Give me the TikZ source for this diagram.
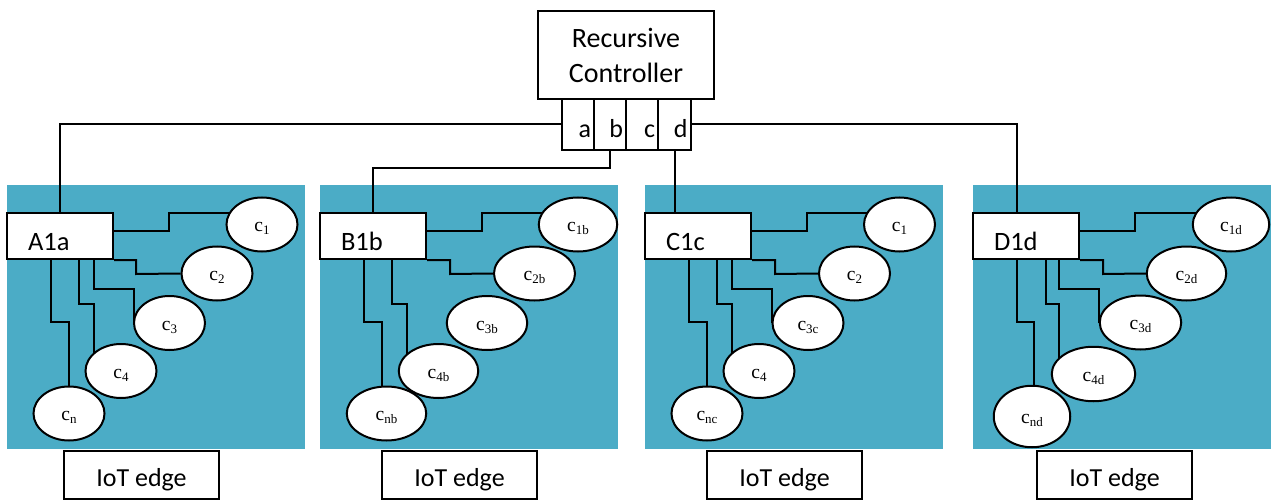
\documentclass[tikz,border=0pt]{standalone}
\usepackage{fontspec}
\setmainfont{Carlito}
\newfontfamily\tnr{Liberation Serif}
\usetikzlibrary{shapes.geometric}
\pgfdeclarelayer{panel}
\pgfdeclarelayer{wires}
\pgfsetlayers{panel,wires,main}
\definecolor{edgeblue}{HTML}{4BACC6}
% device label: serif "c" with a lowered subscript
\newcommand\csub[1]{{\tnr\fontsize{19.5}{19.5}\selectfont c\raisebox{-3pt}{\fontsize{13}{13}\selectfont #1}}}

\begin{document}
\begin{tikzpicture}[x=1pt,y=-1pt,
  lw/.style={line width=2pt},
  ctlbox/.style={draw,lw,fill=white,minimum width=176pt,minimum height=88pt,
    inner sep=0pt,align=center,font=\fontsize{28}{35}\selectfont},
  port/.style={draw,lw,fill=white,minimum height=51pt,inner ysep=0pt,inner xsep=3pt,
    text width=26pt,align=right,text height=27pt,text depth=0pt,
    font=\fontsize{26}{26}\selectfont},
  gwbox/.style={draw,lw,fill=white,minimum width=106pt,minimum height=46pt,
    inner ysep=0pt,inner xsep=21pt,text width=64pt,align=left,
    text height=28pt,text depth=0pt,font=\fontsize{26.5}{26.5}\selectfont},
  iot/.style={draw,lw,fill=white,minimum width=155pt,minimum height=48pt,inner sep=0pt,
    text height=24pt,text depth=0pt,font=\fontsize{26}{26}\selectfont},
  dev/.style={ellipse,draw,lw,fill=white,inner sep=0pt,text height=14pt,text depth=0pt,
    minimum width=71pt,minimum height=54pt},
  wire/.style={draw,lw},
  panelbg/.style={fill=edgeblue}]
\useasboundingbox (0,0) rectangle (1272,500);

% ---------- controller and its ports ----------
\node[ctlbox] (ctl) at (626,55) {Recursive\\Controller};
\node[port] (pa) at (578,124.5) {a};
\node[port] (pb) at (610,124.5) {b};
\node[port] (pc) at (642,124.5) {c};
\node[port,minimum width=33pt] (pd) at (674.5,124.5) {d};

% ---------- edge panels ----------
\begin{pgfonlayer}{panel}
  \fill[panelbg] (7,185) rectangle (305,449);
  \fill[panelbg] (320,185) rectangle (618,449);
  \fill[panelbg] (645,185) rectangle (943,449);
  \fill[panelbg] (973,185) rectangle (1271,449);
\end{pgfonlayer}

% gateways
\node[gwbox] (A1a) at (60,236) {A1a};
\node[gwbox] (B1b) at (373,236) {B1b};
\node[gwbox] (C1c) at (698,236) {C1c};
\node[gwbox] (D1d) at (1026,236) {D1d};

% panel A devices
\node[dev] (c1a) at (262,224.5) {\csub{1}};
\node[dev] (c2a) at (217,273.5) {\csub{2}};
\node[dev] (c3a) at (169.5,323) {\csub{3}};
\node[dev] (c4a) at (121,371) {\csub{4}};
\node[dev] (cna) at (69,413.5) {\csub{n}};

% panel B devices
\node[dev,minimum width=78.5pt] (c1b) at (578,224.5) {\csub{1b}};
\node[dev,minimum width=81pt] (c2b) at (534.5,273.5) {\csub{2b}};
\node[dev,minimum width=80.5pt] (c3b) at (487,323) {\csub{3b}};
\node[dev,minimum width=79.5pt] (c4b) at (438.5,371) {\csub{4b}};
\node[dev,minimum width=79.5pt] (cnb) at (386.5,413.5) {\csub{nb}};

% panel C devices
\node[dev] (c1c) at (899.5,224.5) {\csub{1}};
\node[dev] (c2c) at (854.5,273.5) {\csub{2}};
\node[dev] (c3c) at (808,323) {\csub{3c}};
\node[dev] (c4c) at (759,371) {\csub{4}};
\node[dev] (cnc) at (707,413.5) {\csub{nc}};

% panel D devices
\node[dev,minimum width=76.5pt] (c1d) at (1231,224.5) {\csub{1d}};
\node[dev,minimum width=79.5pt] (c2d) at (1186.5,273.5) {\csub{2d}};
\node[dev,minimum width=81.5pt] (c3d) at (1140.5,322.5) {\csub{3d}};
\node[dev,minimum width=83.5pt,minimum height=54.5pt] (c4d) at (1093.5,374) {\csub{4d}};
\node[dev,minimum width=76.5pt,minimum height=61.5pt] (cnd) at (1032,416.5) {\csub{nd}};

% edge labels
\node[iot] (iotA) at (141.5,474.5) {IoT edge};
\node[iot] (iotB) at (459.5,474.5) {IoT edge};
\node[iot] (iotC) at (784.5,474.5) {IoT edge};
\node[iot] (iotD) at (1114.5,474.5) {IoT edge};

% ---------- wiring ----------
\begin{pgfonlayer}{wires}
\begin{scope}[every path/.style={wire}]
  % controller ports to gateways
  \path (pa.west) -| (A1a.north);
  \path (pb.south) -- ++(0,17) -| (B1b.north);
  \path (pd.south) -- (pd.south |- C1c.north);
  \path (pd.east) -| ([xshift=-9pt]D1d.north);

  % panel A
  \path ([yshift=5pt]A1a.east) -| (169,213) -- (c1a.center |- 0,213);
  \path (A1a.south east) -| (136,274) -- (c2a.west);
  \path (A1a.south -| 94,0) |- (134,289) -- (c3a.west -| 134,0);
  \path (A1a.south -| 79,0) |- (94,304) -- (c4a.center -| 94,0);
  \path (A1a.south -| 51,0) |- (69,322) -- (cna.north);

  % panel B
  \path ([yshift=5pt]B1b.east) -| (482,213) -- (c1b.center |- 0,213);
  \path (B1b.south east) -| (450,274) -- (c2b.west);
  \path (B1b.south -| 392,0) |- (407,304) -- (c4b.center -| 407,0);
  \path (B1b.south -| 364,0) |- (382,322) -- (cnb.center -| 382,0);

  % panel C
  \path ([yshift=5pt]C1c.east) -| (807,213) -- (c1c.center |- 0,213);
  \path (C1c.south east) -| (775,274) -- (c2c.west);
  \path (C1c.south -| 732,0) |- (772,289) -- (c3c.west -| 772,0);
  \path (C1c.south -| 717,0) |- (732,304) -- (c4c.center -| 732,0);
  \path (C1c.south -| 689,0) |- (707,322) -- (cnc.north);

  % panel D
  \path ([yshift=5pt]D1d.east) -| (1135,213) -- (c1d.center |- 0,213);
  \path (D1d.south east) -| (1103,274) -- (c2d.west);
  \path (D1d.south -| 1059,0) |- (1099,289) -- (c3d.west -| 1099,0);
  \path (D1d.south -| 1046,0) |- (1059,304) -- (c4d.center -| 1059,0);
  \path (D1d.south -| 1017,0) |- (1034,322) -- (cnd.center -| 1034,0);
\end{scope}
\end{pgfonlayer}
\end{tikzpicture}
\end{document}
